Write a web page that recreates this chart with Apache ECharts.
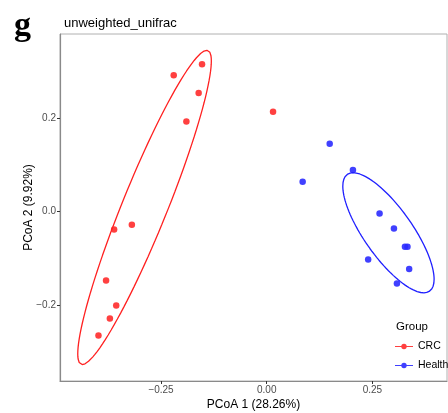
<!DOCTYPE html>
<html>
<head>
<meta charset="utf-8">
<script src="https://cdn.jsdelivr.net/npm/echarts@6/dist/echarts.min.js"></script>
<style>
  html, body { margin: 0; padding: 0; background: #fff; }
  #main { width: 448px; height: 413px; }
</style>
</head>
<body>
<div id="main"></div>
<script>
// PCoA coordinates
var crcX = [-0.153, -0.220, -0.161, -0.190, -0.319, -0.361, -0.380, -0.356, -0.371, -0.398, 0.015];
var crcY = [0.314, 0.291, 0.253, 0.192, -0.028, -0.038, -0.147, -0.200, -0.228, -0.264, 0.213];
var healthX = [0.149, 0.085, 0.204, 0.267, 0.301, 0.327, 0.333, 0.240, 0.337, 0.308];
var healthY = [0.145, 0.064, 0.089, -0.004, -0.036, -0.075, -0.075, -0.102, -0.122, -0.153];
var xTicks = [-0.25, 0, 0.25];
var yTicks = [-0.2, 0, 0.2];

// confidence ellipses (centre, spread along x / y, correlation)
var crcEllipse = [-0.289, 0.009, 0.158, 0.335, 0.932];
var healthEllipse = [0.288, -0.045, 0.108, 0.128, -0.775];

function zip(xs, ys) {
  return xs.map(function (x, i) { return [x, ys[i]]; });
}

function ellipse(e) {
  var cx = e[0], cy = e[1], sx = e[2], sy = e[3], r = e[4];
  var q = Math.sqrt(1 - r * r);
  var out = [];
  for (var k = 0; k <= 120; k++) {
    var t = 2 * Math.PI * k / 120;
    var c = Math.cos(t), s = Math.sin(t);
    out.push([cx + sx * c, cy + sy * (r * c + q * s)]);
  }
  return out;
}

var legendIcon = 'path://M0,3.4H20V4.6H0Z M13,4A3,3,0,1,1,7,4A3,3,0,1,1,13,4Z';

var fmt = function (v) {
  return String(v).replace('-', '\u2212');
};

var myChart = echarts.init(document.getElementById('main'));
myChart.setOption({
  animation: false,
  textStyle: { fontFamily: 'Liberation Sans, Arial, sans-serif' },
  title: [
    { text: 'g', left: 9, top: 4, textStyle: { fontFamily: 'Liberation Serif, serif', fontSize: 34, fontWeight: 'bold', color: '#000' } },
    { text: 'unweighted_unifrac', left: 59, top: 12, textStyle: { fontSize: 13, fontWeight: 'normal', color: '#000' } },
    { text: 'Group', left: 391, top: 316, textStyle: { fontSize: 11.5, fontWeight: 'normal', color: '#000' } }
  ],
  legend: {
    orient: 'vertical',
    left: 390,
    top: 336,
    itemWidth: 18,
    itemHeight: 7,
    itemGap: 8,
    textStyle: { fontSize: 10.5, color: '#000' },
    data: [
      { name: 'CRC', icon: legendIcon },
      { name: 'Health', icon: legendIcon }
    ]
  },
  grid: {
    left: 60, right: 1, top: 34, bottom: 32,
    outerBoundsMode: 'none',
    show: true, borderColor: '#b0b0b0', borderWidth: 1
  },
  xAxis: {
    type: 'value', min: -0.489, max: 0.4265,
    name: 'PCoA 1 (28.26%)', nameLocation: 'middle', nameGap: 18, nameMoveOverlap: false,
    nameTextStyle: { fontSize: 12, color: '#000' },
    splitLine: { show: false },
    axisLine: { show: true, onZero: false, lineStyle: { color: '#8a8a8a', width: 1.2 } },
    axisTick: { show: true, length: 3, customValues: xTicks, lineStyle: { color: '#333' } },
    axisLabel: { customValues: xTicks, fontSize: 10, color: '#4d4d4d', margin: 4,
      formatter: function (v) { return fmt(v.toFixed(2)); } }
  },
  yAxis: {
    type: 'value', min: -0.361, max: 0.3787,
    name: 'PCoA 2 (9.92%)', nameLocation: 'middle', nameGap: 25, nameRotate: 90, nameMoveOverlap: false,
    nameTextStyle: { fontSize: 12, color: '#000' },
    splitLine: { show: false },
    axisLine: { show: true, onZero: false, lineStyle: { color: '#8a8a8a', width: 1.2 } },
    axisTick: { show: true, length: 3, customValues: yTicks, lineStyle: { color: '#333' } },
    axisLabel: { customValues: yTicks, fontSize: 10, color: '#4d4d4d', margin: 4,
      formatter: function (v) { return fmt(v.toFixed(1)); } }
  },
  series: [
    { name: 'CRC', type: 'scatter', data: zip(crcX, crcY), symbolSize: 6.5,
      itemStyle: { color: '#ff2b2b', opacity: 0.9 } },
    { name: 'Health', type: 'scatter', data: zip(healthX, healthY), symbolSize: 6.5,
      itemStyle: { color: '#2b2bff', opacity: 0.9 } },
    { name: 'CRC', type: 'line', data: ellipse(crcEllipse), showSymbol: false, symbol: 'none',
      lineStyle: { color: '#ff2020', width: 1.3 }, itemStyle: { color: '#ff2020' }, silent: true },
    { name: 'Health', type: 'line', data: ellipse(healthEllipse), showSymbol: false, symbol: 'none',
      lineStyle: { color: '#2020ff', width: 1.3 }, itemStyle: { color: '#2020ff' }, silent: true }
  ]
});
</script>
</body>
</html>
